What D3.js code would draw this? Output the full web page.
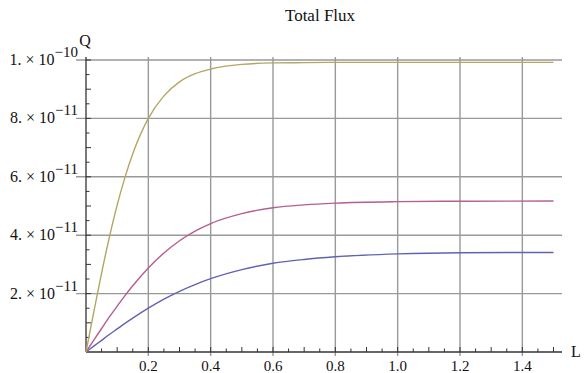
<!DOCTYPE html>
<html>
<head>
<meta charset="utf-8">
<script src="https://cdn.jsdelivr.net/npm/d3@7"></script>
<style>
  body { margin: 0; background: #fff; }
  text { font-family: "Liberation Serif", "DejaVu Serif", serif; fill: #111; }
</style>
</head>
<body>
<div id="chart"></div>
<script>
// ============
// Data (Q in units of 1e-11)
// ============
var lengths = [0, 0.025, 0.05, 0.075, 0.1, 0.125, 0.15, 0.2, 0.25, 0.3, 0.35, 0.4, 0.5, 0.6, 0.7, 0.8, 1.0, 1.2, 1.5];
var fluxTop = [0, 1.375, 2.70, 3.93, 5.03, 5.98, 6.79, 8.00, 8.77, 9.25, 9.53, 9.69, 9.85, 9.90, 9.91, 9.92, 9.92, 9.92, 9.92];
var fluxMid = [0, 0.405, 0.805, 1.20, 1.57, 1.93, 2.27, 2.88, 3.39, 3.81, 4.14, 4.40, 4.74, 4.94, 5.04, 5.10, 5.15, 5.165, 5.17];
var fluxLow = [0, 0.20, 0.40, 0.60, 0.79, 0.98, 1.16, 1.50, 1.81, 2.08, 2.31, 2.51, 2.82, 3.04, 3.17, 3.26, 3.36, 3.40, 3.41];
var xTicks = [0.2, 0.4, 0.6, 0.8, 1.0, 1.2, 1.4];
var yTicks = [2, 4, 6, 8, 10];
var yTickLabels = [["2.", "−11"], ["4.", "−11"], ["6.", "−11"], ["8.", "−11"], ["1.", "−10"]];

var svgWidth = 585;
var svgHeight = 373;

var svg = d3.select("#chart")
  .append("svg")
  .attr("width", svgWidth)
  .attr("height", svgHeight);

var xScale = d3.scaleLinear().domain([0, 1.5]).range([86, 553.5]);
var yScale = d3.scaleLinear().domain([0, 10]).range([352, 60]);

var plotRight = 562;
var plotTop = 57;

// grid lines
svg.append("g").selectAll("line")
  .data(xTicks)
  .enter()
  .append("line")
  .attr("x1", d => xScale(d))
  .attr("x2", d => xScale(d))
  .attr("y1", plotTop)
  .attr("y2", yScale(0) + 4)
  .attr("stroke", "#999")
  .attr("stroke-width", 1.4);

svg.append("g").selectAll("line")
  .data(yTicks)
  .enter()
  .append("line")
  .attr("x1", xScale(0) - 10)
  .attr("x2", plotRight)
  .attr("y1", d => yScale(d))
  .attr("y2", d => yScale(d))
  .attr("stroke", "#999")
  .attr("stroke-width", 1.4);

// minor ticks
var xMinor = d3.range(1, 31).map(i => i * 0.05);
svg.append("g").selectAll("line")
  .data(xMinor)
  .enter()
  .append("line")
  .attr("x1", d => xScale(d))
  .attr("x2", d => xScale(d))
  .attr("y1", yScale(0))
  .attr("y2", (d, i) => yScale(0) - ((i + 1) % 2 === 0 ? 5 : 3.5))
  .attr("stroke", "#333")
  .attr("stroke-width", 1);

var yMinor = d3.range(1, 21).map(i => i * 0.5);
svg.append("g").selectAll("line")
  .data(yMinor)
  .enter()
  .append("line")
  .attr("x1", xScale(0))
  .attr("x2", (d, i) => xScale(0) + ((i + 1) % 2 === 0 ? 5 : 3.5))
  .attr("y1", d => yScale(d))
  .attr("y2", d => yScale(d))
  .attr("stroke", "#333")
  .attr("stroke-width", 1);

// axes
svg.append("line")
  .attr("x1", xScale(0)).attr("x2", plotRight)
  .attr("y1", yScale(0)).attr("y2", yScale(0))
  .attr("stroke", "#333").attr("stroke-width", 1.3);
svg.append("line")
  .attr("x1", xScale(0)).attr("x2", xScale(0))
  .attr("y1", plotTop).attr("y2", yScale(0))
  .attr("stroke", "#333").attr("stroke-width", 1.3);

// tick labels
svg.append("g").selectAll("text")
  .data(xTicks)
  .enter()
  .append("text")
  .attr("x", d => xScale(d))
  .attr("y", yScale(0) + 19)
  .attr("text-anchor", "middle")
  .style("font-size", "15px")
  .text(d => d.toFixed(1));

var yLabels = svg.append("g").selectAll("text")
  .data(yTicks)
  .enter()
  .append("text")
  .attr("x", 78)
  .attr("y", d => yScale(d) + 5)
  .attr("text-anchor", "end")
  .style("font-size", "16px");

yLabels.append("tspan")
  .text((d, i) => yTickLabels[i][0] + " × 10");
yLabels.append("tspan")
  .attr("dy", -8)
  .style("font-size", "15px")
  .text((d, i) => yTickLabels[i][1]);

// axis names and title
svg.append("text")
  .attr("x", 85).attr("y", 46)
  .attr("text-anchor", "middle")
  .style("font-size", "16px")
  .text("Q");
svg.append("text")
  .attr("x", 576).attr("y", 357)
  .attr("text-anchor", "middle")
  .style("font-size", "16px")
  .text("L");
svg.append("text")
  .attr("x", 320).attr("y", 21)
  .attr("text-anchor", "middle")
  .style("font-size", "17px")
  .text("Total Flux");

// curves
var line = d3.line()
  .x(d => xScale(d[0]))
  .y(d => yScale(d[1]))
  .curve(d3.curveMonotoneX);

var series = [
  { values: fluxLow, color: "#6262b4" },
  { values: fluxMid, color: "#b45e92" },
  { values: fluxTop, color: "#b4a664" }
];

series.forEach(function(s) {
  svg.append("path")
    .datum(lengths.map((l, i) => [l, s.values[i]]))
    .attr("d", line)
    .attr("fill", "none")
    .attr("stroke", s.color)
    .attr("stroke-width", 1.4);
});
</script>
</body>
</html>
